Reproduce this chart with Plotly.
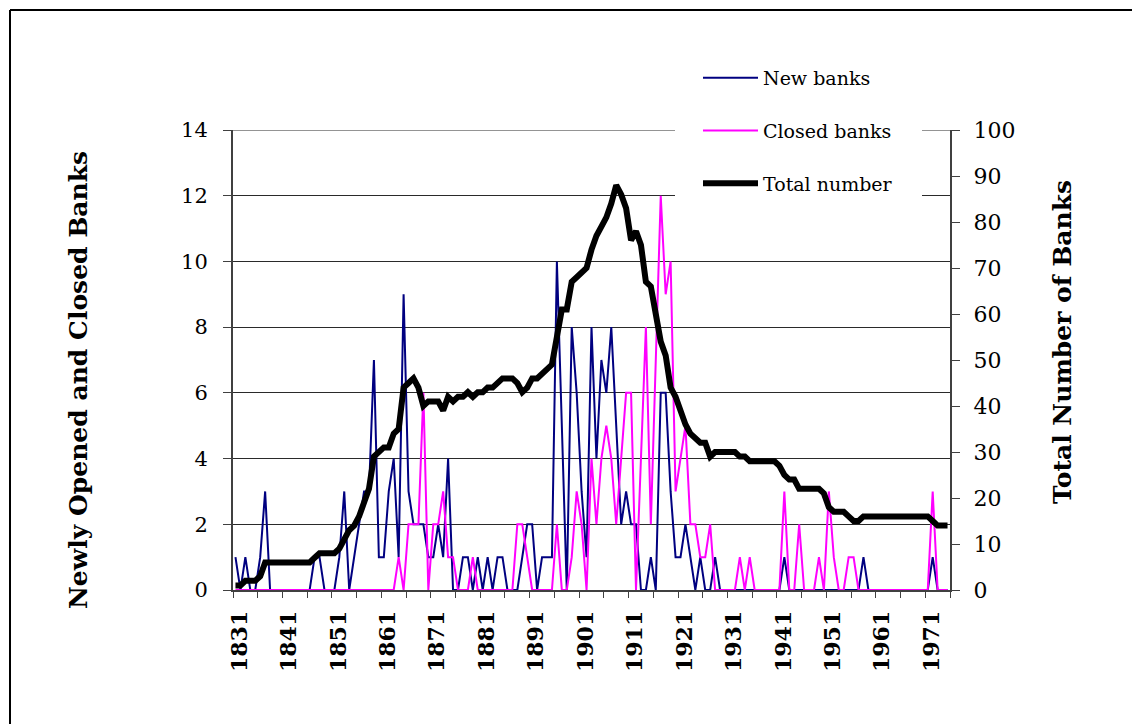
import plotly.graph_objects as go

years = list(range(1831, 1976))

new_banks = [
    # 1831-1840
    1, 0, 1, 0, 0, 1, 3, 0, 0, 0,
    # 1841-1850
    0, 0, 0, 0, 0, 0, 1, 1, 0, 0,
    # 1851-1860
    0, 1, 3, 0, 1, 2, 3, 3, 7, 1,
    # 1861-1870
    1, 3, 4, 1, 9, 3, 2, 2, 2, 1,
    # 1871-1880
    1, 2, 1, 4, 0, 0, 1, 1, 0, 1,
    # 1881-1890
    0, 1, 0, 1, 1, 0, 0, 0, 1, 2,
    # 1891-1900
    2, 0, 1, 1, 1, 10, 5, 0, 8, 6,
    # 1901-1910
    3, 1, 8, 4, 7, 6, 8, 5, 2, 3,
    # 1911-1920
    2, 2, 0, 0, 1, 0, 6, 6, 3, 1,
    # 1921-1930
    1, 2, 1, 0, 1, 0, 0, 1, 0, 0,
    # 1931-1940
    0, 0, 0, 0, 0, 0, 0, 0, 0, 0,
    # 1941-1950
    0, 1, 0, 0, 0, 0, 0, 0, 0, 0,
    # 1951-1960
    0, 0, 0, 0, 0, 0, 0, 1, 0, 0,
    # 1961-1970
    0, 0, 0, 0, 0, 0, 0, 0, 0, 0,
    # 1971-1975
    0, 1, 0, 0, 0,
]

closed_banks = [
    # 1831-1840
    0, 0, 0, 0, 0, 0, 0, 0, 0, 0,
    # 1841-1850
    0, 0, 0, 0, 0, 0, 0, 0, 0, 0,
    # 1851-1860
    0, 0, 0, 0, 0, 0, 0, 0, 0, 0,
    # 1861-1870
    0, 0, 0, 1, 0, 2, 2, 2, 6, 0,
    # 1871-1880
    2, 2, 3, 1, 1, 0, 0, 0, 1, 0,
    # 1881-1890
    0, 0, 0, 0, 0, 0, 0, 2, 2, 1,
    # 1891-1900
    0, 0, 0, 0, 0, 2, 0, 0, 1, 3,
    # 1901-1910
    2, 0, 4, 2, 4, 5, 4, 2, 4, 6,
    # 1911-1920
    6, 0, 4, 8, 2, 7, 12, 9, 10, 3,
    # 1921-1930
    4, 5, 2, 2, 1, 1, 2, 0, 0, 0,
    # 1931-1940
    0, 0, 1, 0, 1, 0, 0, 0, 0, 0,
    # 1941-1950
    0, 3, 0, 0, 2, 0, 0, 0, 1, 0,
    # 1951-1960
    3, 1, 0, 0, 1, 1, 0, 0, 0, 0,
    # 1961-1970
    0, 0, 0, 0, 0, 0, 0, 0, 0, 0,
    # 1971-1975
    0, 3, 0, 0, 0,
]

total_banks = [
    # 1831-1840
    1, 1, 2, 2, 2, 3, 6, 6, 6, 6,
    # 1841-1850
    6, 6, 6, 6, 6, 6, 7, 8, 8, 8,
    # 1851-1860
    8, 9, 11, 13, 14, 16, 19, 22, 29, 30,
    # 1861-1870
    31, 31, 34, 35, 44, 45, 46, 44, 40, 41,
    # 1871-1880
    41, 41, 39, 42, 41, 42, 42, 43, 42, 43,
    # 1881-1890
    43, 44, 44, 45, 46, 46, 46, 45, 43, 44,
    # 1891-1900
    46, 46, 47, 48, 49, 55, 61, 61, 67, 68,
    # 1901-1910
    69, 70, 74, 77, 79, 81, 84, 88, 86, 83,
    # 1911-1920
    76, 78, 75, 67, 66, 60, 54, 51, 44, 42,
    # 1921-1930
    39, 36, 34, 33, 32, 32, 29, 30, 30, 30,
    # 1931-1940
    30, 30, 29, 29, 28, 28, 28, 28, 28, 28,
    # 1941-1950
    27, 25, 24, 24, 22, 22, 22, 22, 22, 21,
    # 1951-1960
    18, 17, 17, 17, 16, 15, 15, 16, 16, 16,
    # 1961-1970
    16, 16, 16, 16, 16, 16, 16, 16, 16, 16,
    # 1971-1975
    16, 15, 14, 14, 14,
]

x_label_vals = list(range(1831, 1976, 10))
x_label_text = [str(v) for v in x_label_vals]

FONT = "DejaVu Serif"

# The page body adds an 8px offset; positions below are given in screen pixels
OFF = 8
W, H = 1140 - OFF, 724 - OFF
L, R, T, B = 233 - OFF, 950 - OFF, 130 - OFF, 590 - OFF
pw, ph = R - L, B - T


def px(sx):
    return (sx - OFF - L) / pw


def py(sy):
    return (B - (sy - OFF)) / ph


fig = go.Figure()
fig.add_trace(go.Scatter(x=years, y=new_banks, name="New banks", mode="lines",
                         legendgroup="new",
                         line=dict(color="#000080", width=2), yaxis="y"))
fig.add_trace(go.Scatter(x=years, y=closed_banks, name="Closed banks", mode="lines",
                         legendgroup="closed",
                         line=dict(color="#FF00FF", width=2), yaxis="y"))
fig.add_trace(go.Scatter(x=years, y=total_banks, name="Total number", mode="lines",
                         legendgroup="total",
                         line=dict(color="#000000", width=6), yaxis="y2"))

axis_line = "#404040"
grid_col = "#2a2a2a"

fig.update_layout(
    width=W, height=H,
    margin=dict(l=L, r=W - R, t=T, b=H - B, pad=0),
    paper_bgcolor="white", plot_bgcolor="white",
    font=dict(family=FONT, color="black", size=20),
    showlegend=True,
    legend=dict(
        x=px(698), xanchor="left", y=py(59), yanchor="top",
        bgcolor="rgba(0,0,0,0)", borderwidth=0,
        font=dict(family=FONT, size=19, color="black"),
        tracegroupgap=25, itemwidth=55,
    ),
    xaxis=dict(
        range=[years[0] - 0.5, years[-1] + 0.5],
        tickmode="array", tickvals=x_label_vals, ticktext=x_label_text,
        tickangle=-90, ticks="", showline=True, linecolor=axis_line, linewidth=2,
        showgrid=False, zeroline=False,
        minor=dict(tickmode="linear", tick0=years[0] - 0.5, dtick=5,
                   ticks="outside", ticklen=6, tickcolor=axis_line, tickwidth=1,
                   showgrid=False),
        tickfont=dict(family=FONT, size=22, color="black", weight="bold"),
        ticklabelstandoff=10, ticklabelshift=4,
    ),
    yaxis=dict(
        range=[0, 14], dtick=2, ticks="outside", ticklen=8, tickcolor=axis_line,
        showline=True, linecolor=axis_line, linewidth=2,
        showgrid=True, gridcolor=grid_col, gridwidth=1, zeroline=False,
        tickfont=dict(family=FONT, size=21, color="black"),
        ticklabelstandoff=11,
    ),
    yaxis2=dict(
        range=[0, 100], dtick=10, overlaying="y", side="right", anchor="x",
        ticks="outside", ticklen=8, tickcolor=axis_line,
        showline=True, linecolor=axis_line, linewidth=2, showgrid=False, zeroline=False,
        tickfont=dict(family=FONT, size=22, color="black"),
        ticklabelstandoff=9,
    ),
    yaxis3=dict(
        range=[0, 100], dtick=10, overlaying="y", side="right", anchor="x",
        ticks="inside", ticklen=8, tickcolor=axis_line, showticklabels=False,
        showline=False, showgrid=False, zeroline=False,
    ),
    annotations=[
        dict(text="<b>Newly Opened and Closed Banks</b>", xref="paper", yref="paper",
             x=px(78), y=py(380), textangle=-90, showarrow=False,
             xanchor="center", yanchor="middle",
             font=dict(family=FONT, size=25, color="black")),
        dict(text="<b>Total Number of Banks</b>", xref="paper", yref="paper",
             x=px(1062), y=py(342), textangle=-90, showarrow=False,
             xanchor="center", yanchor="middle",
             font=dict(family=FONT, size=25, color="black")),
    ],
    shapes=[
        # top gridline at 14
        dict(type="line", xref="paper", yref="y", x0=0, x1=1, y0=14, y1=14,
             line=dict(color=grid_col, width=1), layer="below"),
        # white box behind the legend hiding gridlines
        dict(type="rect", xref="paper", yref="paper", x0=px(675), x1=px(922),
             y0=py(206), y1=py(120), fillcolor="white", line=dict(width=0), layer="above"),
        # chart border
        dict(type="line", xref="paper", yref="paper", x0=px(10), x1=px(10),
             y0=py(10), y1=py(740), line=dict(color="black", width=2)),
        dict(type="line", xref="paper", yref="paper", x0=px(10), x1=px(1145),
             y0=py(10), y1=py(10), line=dict(color="black", width=2)),
    ],
)

fig.write_html("out.html")
